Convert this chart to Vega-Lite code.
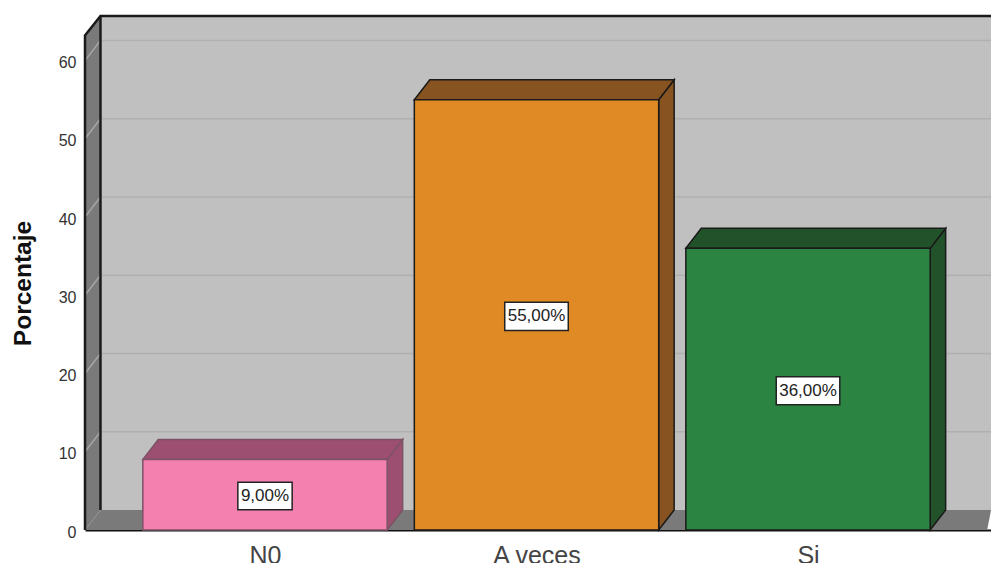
{
"$schema":"https://vega.github.io/schema/vega-lite/v6.json",
"width":906,"height":514,
"autosize":{"type":"none"},
"padding":{"left":85,"top":16,"right":0,"bottom":33},
"background":"white",
"config":{"view":{"stroke":null},"font":"Liberation Sans"},
"datasets":{
"wallback":[{"x":0.394,"x2":3.674,"y":2.56,"y2":65.7}],
"wallleft":[{"x":0.337,"y":0,"y2":63.2},{"x":0.394,"y":2.56,"y2":65.7}],
"floor":[{"y":0,"x":0.337,"x2":3.66},{"y":2.56,"x":0.394,"x2":3.674}],
"grid":[{"y":12.56},{"y":22.56},{"y":32.56},{"y":42.56},{"y":52.56},{"y":62.56}],
"griddiag":[{"k":10,"x":0.337,"y":10},{"k":10,"x":0.394,"y":12.56},{"k":20,"x":0.337,"y":20},{"k":20,"x":0.394,"y":22.56},{"k":30,"x":0.337,"y":30},{"k":30,"x":0.394,"y":32.56},{"k":40,"x":0.337,"y":40},{"k":40,"x":0.394,"y":42.56},{"k":50,"x":0.337,"y":50},{"k":50,"x":0.394,"y":52.56},{"k":60,"x":0.337,"y":60},{"k":60,"x":0.394,"y":62.56}],
"edges":[{"e":"a","x":0.337,"y":0},{"e":"a","x":0.337,"y":63.2},{"e":"a","x":0.394,"y":65.7},{"e":"a","x":3.674,"y":65.7},{"e":"b","x":0.394,"y":2.56},{"e":"b","x":0.394,"y":65.7}],
"bars":[
{"cat":"N0","x":0.55,"x2":1.45,"v":9},
{"cat":"A veces","x":1.55,"x2":2.45,"v":55},
{"cat":"Si","x":2.55,"x2":3.45,"v":36}],
"sides":[
{"cat":"N0","x":1.45,"y":0,"y2":9},{"cat":"N0","x":1.507,"y":2.56,"y2":11.56},
{"cat":"A veces","x":2.45,"y":0,"y2":55},{"cat":"A veces","x":2.507,"y":2.56,"y2":57.56},
{"cat":"Si","x":3.45,"y":0,"y2":36},{"cat":"Si","x":3.507,"y":2.56,"y2":38.56}],
"tops":[
{"cat":"N0","y":9,"x":0.55,"x2":1.45},{"cat":"N0","y":11.56,"x":0.607,"x2":1.507},
{"cat":"A veces","y":55,"x":1.55,"x2":2.45},{"cat":"A veces","y":57.56,"x":1.607,"x2":2.507},
{"cat":"Si","y":36,"x":2.55,"x2":3.45},{"cat":"Si","y":38.56,"x":2.607,"x2":3.507}],
"labels":[
{"cx":1.0,"x":0.9,"x2":1.1,"v":4.4,"y":2.6,"y2":6.1,"t":"9,00%"},
{"cx":2.0,"x":1.883,"x2":2.117,"v":27.4,"y":25.5,"y2":29.1,"t":"55,00%"},
{"cx":3.0,"x":2.883,"x2":3.117,"v":17.8,"y":16,"y2":19.6,"t":"36,00%"}]
},
"layer":[
{"data":{"name":"wallback"},"mark":{"type":"rect","fill":"#c0c0c0"},
"encoding":{
"x":{"field":"x","type":"quantitative","scale":{"domain":[0.337,3.674],"nice":false,"zero":false},
"axis":{"values":[1,2,3],"title":null,"grid":false,"ticks":false,"domain":true,"domainColor":"#111111","domainWidth":2,"labelFontSize":25,"labelColor":"#444444","labelPadding":13,"labelExpr":"datum.value==1?'N0':datum.value==2?'A veces':'Si'"}},
"x2":{"field":"x2"},
"y":{"field":"y","type":"quantitative","scale":{"domain":[0,65.7],"nice":false,"zero":false},
"axis":{"values":[0,10,20,30,40,50,60],"title":"Porcentaje","titleFontSize":24.5,"titleFontWeight":"bold","titleColor":"#111111","titlePadding":23,"titleY":267,"grid":false,"ticks":false,"domain":false,"labelFontSize":16,"labelColor":"#333333","labelPadding":9,"labelOffset":2}},
"y2":{"field":"y2"}}},
{"data":{"name":"wallleft"},"mark":{"type":"area","fill":"#7a7a7a"},
"encoding":{"x":{"field":"x","type":"quantitative"},"y":{"field":"y","type":"quantitative"},"y2":{"field":"y2"}}},
{"data":{"name":"floor"},"mark":{"type":"area","orient":"horizontal","fill":"#7a7a7a"},
"encoding":{"y":{"field":"y","type":"quantitative"},"x":{"field":"x","type":"quantitative"},"x2":{"field":"x2"}}},
{"data":{"name":"grid"},"mark":{"type":"rule","color":"#b0b0b0","strokeWidth":1.5},
"encoding":{"y":{"field":"y","type":"quantitative"},"x":{"datum":0.394,"type":"quantitative"},"x2":{"datum":3.674}}},
{"data":{"name":"griddiag"},"mark":{"type":"line","color":"#a6a6a6","strokeWidth":1.5},
"encoding":{"x":{"field":"x","type":"quantitative"},"y":{"field":"y","type":"quantitative"},"detail":{"field":"k"}}},
{"data":{"name":"edges"},"mark":{"type":"line","color":"#1a1a1a","strokeWidth":2.5,"clip":false},
"encoding":{"x":{"field":"x","type":"quantitative"},"y":{"field":"y","type":"quantitative"},"detail":{"field":"e"},"order":{"field":"y"}}},
{"data":{"name":"sides"},"mark":{"type":"area","strokeWidth":1.5},
"encoding":{"x":{"field":"x","type":"quantitative"},"y":{"field":"y","type":"quantitative"},"y2":{"field":"y2"},"detail":{"field":"cat"},
"stroke":{"field":"cat","type":"nominal","scale":{"domain":["N0","A veces","Si"],"range":["#7d5266","#1a1a1a","#1a1a1a"]},"legend":null},
"fill":{"field":"cat","type":"nominal","scale":{"domain":["N0","A veces","Si"],"range":["#9c4f70","#875320","#22522a"]},"legend":null}}},
{"data":{"name":"tops"},"mark":{"type":"area","orient":"horizontal","strokeWidth":1.5},
"encoding":{"y":{"field":"y","type":"quantitative"},"x":{"field":"x","type":"quantitative"},"x2":{"field":"x2"},"detail":{"field":"cat"},
"stroke":{"field":"cat","type":"nominal","legend":null},
"fill":{"field":"cat","type":"nominal","legend":null}}},
{"data":{"name":"bars"},"mark":{"type":"rect","strokeWidth":1.5},
"encoding":{"x":{"field":"x","type":"quantitative"},"x2":{"field":"x2"},"y":{"field":"v","type":"quantitative"},"y2":{"datum":0},
"stroke":{"field":"cat","type":"nominal","legend":null},
"color":{"field":"cat","type":"nominal","scale":{"domain":["N0","A veces","Si"],"range":["#f480b0","#e08a25","#2c8442"]},"legend":null}}},
{"data":{"name":"labels"},"mark":{"type":"rect","fill":"white","stroke":"#222222","strokeWidth":1.5},
"encoding":{"x":{"field":"x","type":"quantitative"},"x2":{"field":"x2"},"y":{"field":"y","type":"quantitative"},"y2":{"field":"y2"}}},
{"data":{"name":"labels"},"mark":{"type":"text","fontSize":17,"color":"#222222"},
"encoding":{"x":{"field":"cx","type":"quantitative"},"y":{"field":"v","type":"quantitative"},"text":{"field":"t","type":"nominal"}}}
]
}
